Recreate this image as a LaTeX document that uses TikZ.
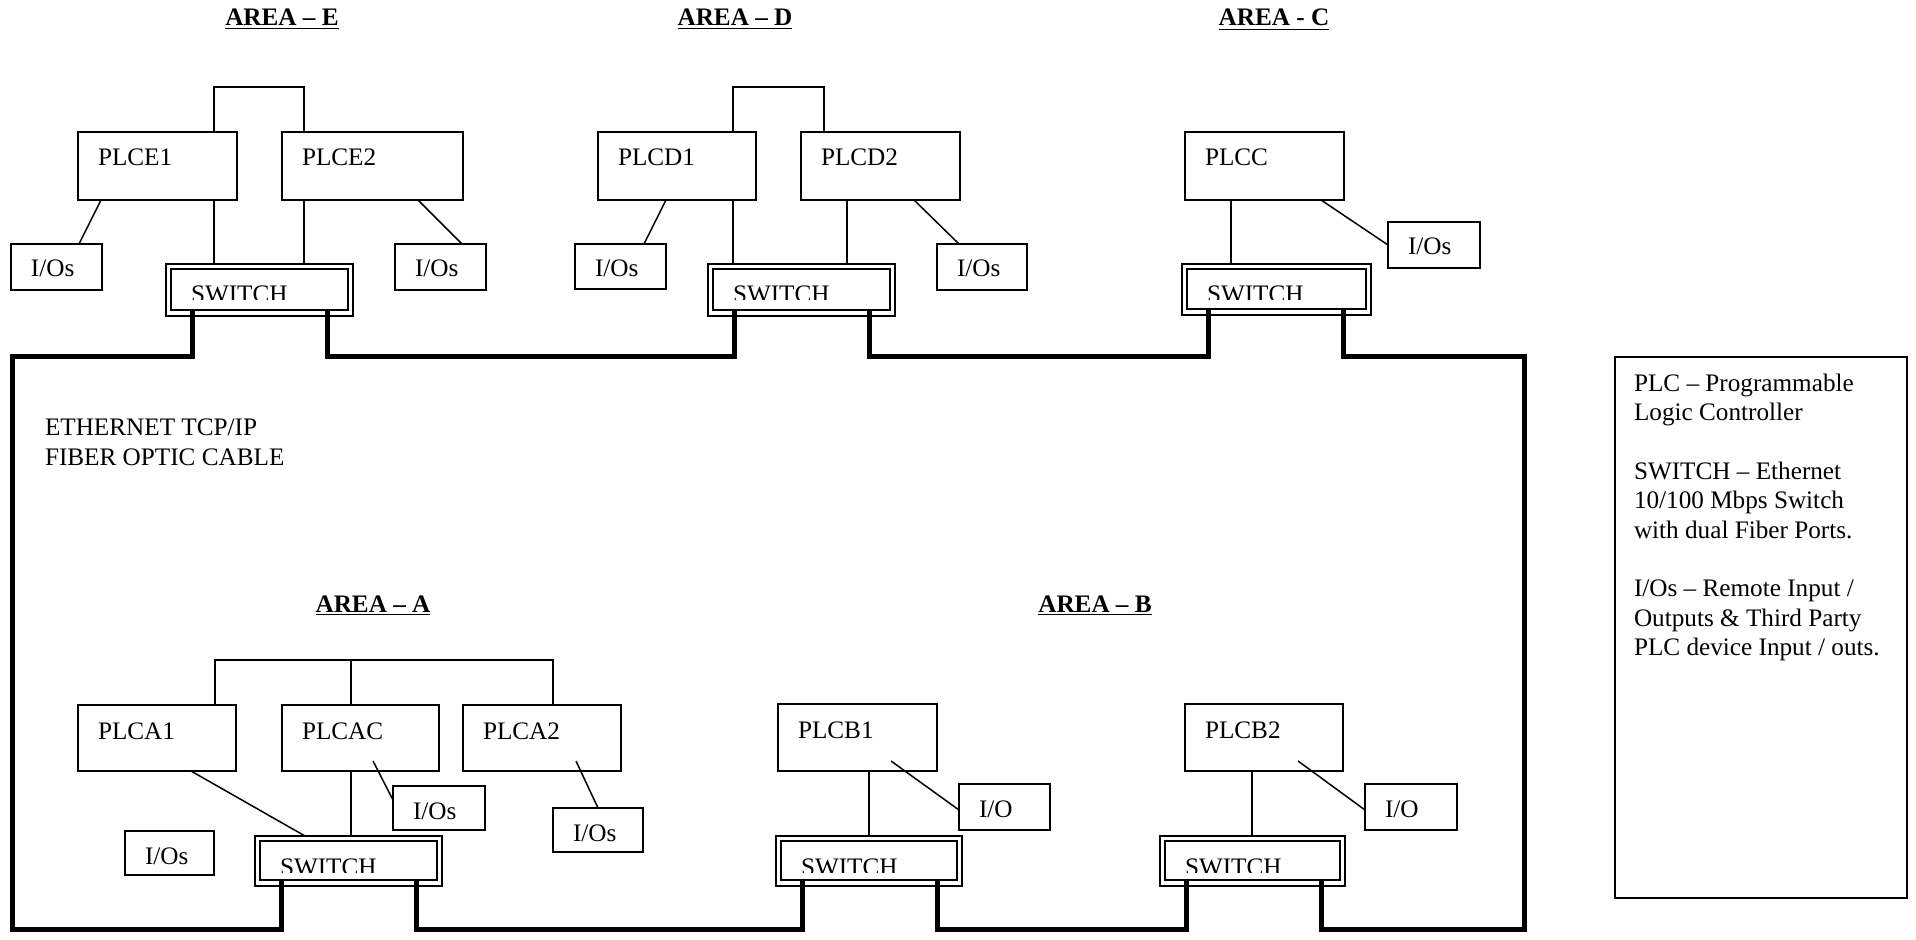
\documentclass[tikz,border=0pt]{standalone}
\usepackage{fontspec}
\setmainfont{Liberation Serif}
\usetikzlibrary{calc,fit}
\newcommand\mkbox[6]{\node[#1, fit={(#3,#4) (#5,#6)}] (#2) {};}
\newcommand\swtext[1]{%
  \begin{scope}
    \clip ($(#1.north west)+(0,0)$) rectangle ($(#1.north east)+(0,36)$);
    \node[lbl] at ($(#1.north west)+(25,39)$) {SWITCH};
  \end{scope}}
\begin{document}
\begin{tikzpicture}[x=0.5pt,y=-0.5pt,
  every node/.style={outer sep=0pt},
  box/.style={draw, line width=0.8pt, inner sep=0pt},
  thickbox/.style={draw, line width=1.25pt, inner sep=0pt},
  swbox/.style={draw, line width=0.7pt, inner sep=0pt},
  swinner/.style={line width=1.25pt},
  link/.style={line width=0.75pt},
  fiber/.style={line width=2.5pt, line join=miter},
  lbl/.style={anchor=base west, inner sep=0pt, font=\fontsize{12.6}{14.67}\selectfont},
  area/.style={anchor=base, inner sep=0pt, font=\fontsize{12.6}{14.67}\selectfont\bfseries}]
\useasboundingbox (0,0) rectangle (1916,940);

% ---------- titles ----------
\node[area] (tE) at (282,26) {\underline{AREA – E}};
\node[area] (tD) at (735,26) {\underline{AREA – D}};
\node[area] (tC) at (1274,26) {\underline{AREA - C}};
\node[area] (tA) at (373,612) {\underline{AREA – A}};
\node[area] (tB) at (1095,612) {\underline{AREA – B}};

% ---------- Area E ----------
\mkbox{thickbox}{plce1}{78}{132}{237}{200}
\mkbox{box}{plce2}{282}{132}{463}{200}
\mkbox{box}{ioE1}{11}{244}{102}{290}
\mkbox{box}{ioE2}{395}{244}{486}{290}
\mkbox{swbox}{sE}{166}{264}{353}{316}

% ---------- Area D ----------
\mkbox{box}{plcd1}{598}{132}{756}{200}
\mkbox{box}{plcd2}{801}{132}{960}{200}
\mkbox{box}{ioD1}{575}{244}{666}{289}
\mkbox{box}{ioD2}{937}{244}{1027}{290}
\mkbox{swbox}{sD}{708}{264}{895}{316}

% ---------- Area C ----------
\mkbox{box}{plcc}{1185}{132}{1344}{200}
\mkbox{box}{ioC}{1388}{222}{1480}{268}
\mkbox{swbox}{sC}{1182}{264}{1371}{315}

% ---------- Area A ----------
\mkbox{box}{plca1}{78}{705}{236}{771}
\mkbox{box}{plcac}{282}{705}{439}{771}
\mkbox{box}{plca2}{463}{705}{621}{771}
\mkbox{box}{ioAC}{393}{786}{485}{830}
\mkbox{box}{ioA2}{553}{808}{643}{852}
\mkbox{box}{ioA}{125}{831}{214}{875}
\mkbox{swbox}{sA}{255}{836}{442}{886}

% ---------- Area B ----------
\mkbox{box}{plcb1}{778}{704}{937}{771}
\mkbox{box}{ioB1}{959}{784}{1050}{830}
\mkbox{swbox}{sB1}{776}{836}{962}{886}
\mkbox{box}{plcb2}{1185}{704}{1343}{771}
\mkbox{box}{ioB2}{1365}{784}{1457}{830}
\mkbox{swbox}{sB2}{1160}{836}{1345}{886}

% ---------- legend ----------
\mkbox{box}{legend}{1615}{357}{1907}{898}
\node[lbl, anchor=north west, align=left] (legtext) at (1634,374)
  {PLC – Programmable\\Logic Controller\\[14.67pt]SWITCH – Ethernet\\10/100 Mbps Switch\\with dual Fiber Ports.\\[14.67pt]I/Os – Remote Input /\\Outputs \& Third Party\\PLC device Input / outs.};

\node[lbl, anchor=north west, align=left] (eth) at (45,419)
  {ETHERNET TCP/IP\\FIBER OPTIC CABLE};

% ---------- switch inner frames and texts ----------
\foreach \s in {sE,sD,sC,sA,sB1,sB2}{
  \draw[swinner] ($(\s.north west)+(5,5)$) rectangle ($(\s.south east)+(-5,-6)$);
  \swtext{\s}
}

% ---------- box texts ----------
\foreach \n/\t in {plce1/PLCE1,plce2/PLCE2,plcd1/PLCD1,plcd2/PLCD2,plcc/PLCC,
                   plca1/PLCA1,plcac/PLCAC,plca2/PLCA2,plcb1/PLCB1,plcb2/PLCB2}{
  \node[lbl] at ($(\n.north west)+(20,34)$) {\t};
}
\foreach \n/\t in {ioE1/I\slash Os,ioE2/I\slash Os,ioD1/I\slash Os,ioD2/I\slash Os,ioC/I\slash Os,
                   ioAC/I\slash Os,ioA2/I\slash Os,ioA/I\slash Os,ioB1/I\slash O,ioB2/I\slash O}{
  \node[lbl] at ($(\n.north west)+(20,33)$) {\t};
}

% ---------- thin links: Area E ----------
\draw[link] ($(plce1.north west)+(136,0)$) -- ++(0,-45) -| ($(plce2.north west)+(22,0)$);
\draw[link] ($(plce1.south west)+(136,0)$) -- ($(sE.north west)+(48,0)$);
\draw[link] ($(plce2.south west)+(22,0)$) -- ($(sE.north west)+(138,0)$);
\draw[link] ($(plce1.south west)+(23,0)$) -- ($(ioE1.north west)+(68,0)$);
\draw[link] ($(plce2.south west)+(136,0)$) -- ($(ioE2.north west)+(67,0)$);

% ---------- thin links: Area D ----------
\draw[link] ($(plcd1.north west)+(135,0)$) -- ++(0,-45) -| ($(plcd2.north west)+(23,0)$);
\draw[link] ($(plcd1.south west)+(135,0)$) -- ($(sD.north west)+(25,0)$);
\draw[link] ($(plcd2.south west)+(46,0)$) -- ($(sD.north west)+(139,0)$);
\draw[link] ($(plcd1.south west)+(68,0)$) -- ($(ioD1.north west)+(69,0)$);
\draw[link] ($(plcd2.south west)+(113,0)$) -- ($(ioD2.north west)+(22,0)$);

% ---------- thin links: Area C ----------
\draw[link] ($(plcc.south west)+(46,0)$) -- ($(sC.north west)+(49,0)$);
\draw[link] ($(plcc.south west)+(136,0)$) -- ($(ioC.north west)+(0,23)$);

% ---------- thin links: Area A ----------
\draw[link] ($(plca1.north west)+(137,0)$) -- ++(0,-45) -| ($(plca2.north west)+(90,0)$);
\draw[link] ($(plcac.north west)+(69,0)$) -- ++(0,-45);
\draw[link] ($(plca1.south west)+(113,0)$) -- ($(sA.north west)+(50,0)$);
\draw[link] ($(plcac.south west)+(69,0)$) -- ($(sA.north west)+(96,0)$);
\draw[link] ($(plcac.south west)+(91,-10)$) -- ($(ioAC.north west)+(0,14)$);
\draw[link] ($(plca2.south west)+(113,-10)$) -- ($(ioA2.north west)+(45,0)$);

% ---------- thin links: Area B ----------
\draw[link] ($(plcb1.south west)+(91,0)$) -- ($(sB1.north west)+(93,0)$);
\draw[link] ($(plcb1.south west)+(113,-10)$) -- ($(ioB1.north west)+(0,26)$);
\draw[link] ($(plcb2.south west)+(67,0)$) -- ($(sB2.north west)+(92,0)$);
\draw[link] ($(plcb2.south west)+(113,-10)$) -- ($(ioB2.north west)+(0,26)$);

% ---------- fiber ring ----------
\coordinate (nw) at (12,357);
\coordinate (sw) at (12,929);
\coordinate (ne) at (1524,357);
\coordinate (se) at (1524,929);
\foreach \s in {sE,sD,sC,sA,sB1,sB2}{
  \coordinate (\s-p1) at ($(\s.south west)+(26,-6)$);
  \coordinate (\s-p2) at ($(\s.south west)+(161,-6)$);
}
\draw[fiber] (sE-p1) |- (nw) -- (sw) -| (sA-p1);
\draw[fiber] (sE-p2) -- (sE-p2 |- nw) -| (sD-p1);
\draw[fiber] (sD-p2) -- (sD-p2 |- nw) -| (sC-p1);
\draw[fiber] (sC-p2) |- (ne) -- (se) -| (sB2-p2);
\draw[fiber] (sB2-p1) -- (sB2-p1 |- se) -| (sB1-p2);
\draw[fiber] (sB1-p1) -- (sB1-p1 |- se) -| (sA-p2);
\end{tikzpicture}
\end{document}
